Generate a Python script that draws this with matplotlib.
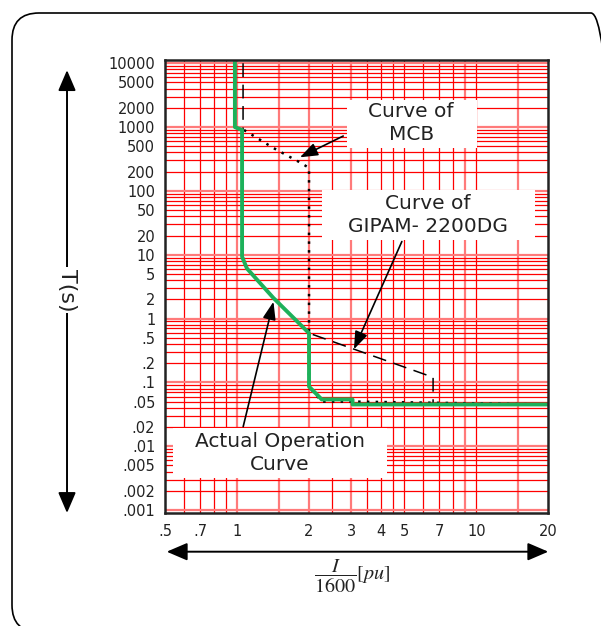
import numpy as np
import matplotlib.pyplot as plt
from matplotlib.patches import Rectangle, FancyBboxPatch, FancyArrowPatch
from matplotlib.ticker import NullLocator

plt.rcParams['font.family'] = ['DejaVu Sans']
plt.rcParams['mathtext.fontset'] = 'stix'

# curves (I/1600 in pu, T in s)
actual_x = [0.98, 0.98, 1.05, 1.05, 1.10, 1.42, 2.0, 2.0, 2.26, 3.04, 3.04, 20]
actual_y = [10000, 1000, 900, 9.3, 6.1, 2.1, 0.59, 0.086, 0.054, 0.054, 0.045, 0.045]
gipam_x = [1.06, 1.06, 1.10, 1.42, 2.0, 6.6, 6.6]
gipam_y = [10000, 9.3, 6.1, 2.1, 0.59, 0.12, 0.045]
mcb_x = [1.07, 1.42, 1.8, 2.0, 2.0, 2.26, 3.04, 20]
mcb_y = [900, 470, 290, 230, 0.086, 0.05, 0.05, 0.045]

xticks = [0.5, 0.7, 1, 2, 3, 4, 5, 7, 10, 20]
xlabels = ['.5', '.7', '1', '2', '3', '4', '5', '7', '10', '20']
yticks = [10000, 5000, 2000, 1000, 500, 200, 100, 50, 20, 10, 5, 2, 1,
          0.5, 0.2, 0.1, 0.05, 0.02, 0.01, 0.005, 0.002, 0.001]
ylabels = ['10000', '5000', '2000', '1000', '500', '200', '100', '50', '20', '10', '5', '2', '1',
           '.5', '.2', '.1', '.05', '.02', '.01', '.005', '.002', '.001']
vgrid = [0.6, 0.7, 0.8, 0.9, 1, 1.5, 2, 2.5, 3, 3.5, 4, 4.5, 5, 6, 7, 8, 9, 10, 15]
vgrid_light = [1, 1.5, 2, 3, 9, 15]

fig = plt.figure(figsize=(6.01, 6.26), dpi=100)
ax = fig.add_axes([0.2745, 0.181, 0.6378, 0.7232])
ax.set_xscale('log')
ax.set_yscale('log')
ax.set_xlim(0.5, 20)
ax.set_ylim(0.000907, 11270)

# red grid
for v in vgrid:
    if v in vgrid_light:
        ax.axvline(v, color='#ff7a7a', lw=1.6, zorder=1)
    else:
        ax.axvline(v, color='#ff0000', lw=0.9, zorder=1)
for n in range(-3, 5):
    for k in range(1, 10):
        val = k * 10.0 ** n
        if val > 11270:
            continue
        if k == 1:
            ax.axhline(val, color='#ff7a7a', lw=1.6, zorder=1)
        else:
            ax.axhline(val, color='#ff0000', lw=0.9, zorder=1)

ax.plot(mcb_x, mcb_y, color='black', lw=1.8, linestyle=(0, (1, 2.5)), zorder=2)
ax.plot(gipam_x, gipam_y, color='black', lw=1.1, linestyle=(0, (9, 5)), zorder=2)
ax.plot(actual_x, actual_y, color='#1db15a', lw=2.8, zorder=3)

ax.set_xticks(xticks)
ax.set_xticklabels(xlabels)
ax.set_yticks(yticks)
ax.set_yticklabels(ylabels)
ax.xaxis.set_minor_locator(NullLocator())
ax.yaxis.set_minor_locator(NullLocator())
ax.tick_params(axis='both', length=0, labelsize=10.5, colors='#222222')
ax.tick_params(axis='y', pad=7)
ax.tick_params(axis='x', pad=8)
for s in ax.spines.values():
    s.set_linewidth(1.8)
    s.set_color('#222222')
    s.set_zorder(7)

# white label boxes
boxes = [(0.474, 0.806, 0.339, 0.105), (0.409, 0.602, 0.557, 0.111), (0.021, 0.076, 0.557, 0.111)]
for bx, by, bw, bh in boxes:
    ax.add_patch(Rectangle((bx, by), bw, bh, transform=ax.transAxes,
                           facecolor='white', edgecolor='none', zorder=4))

tk = dict(transform=ax.transAxes, ha='center', va='center', fontsize=14.5,
          color='#222222', linespacing=1.3, zorder=5)
ax.text(0.642, 0.861, 'Curve of\nMCB', **tk)
ax.text(0.686, 0.658, 'Curve of\nGIPAM- 2200DG', **tk)
ax.text(0.30, 0.132, 'Actual Operation\nCurve', **tk)

ap = dict(arrowstyle='-|>,head_length=0.6,head_width=0.22', color='black', lw=1.2,
          mutation_scale=18, shrinkA=0, shrinkB=0)
for start, tip in [((0.465, 0.832), (0.352, 0.785)),
                   ((0.618, 0.599), (0.493, 0.361)),
                   ((0.204, 0.190), (0.283, 0.466))]:
    ax.annotate('', xy=tip, xytext=start, xycoords='axes fraction',
                arrowprops=ap, zorder=6)

# outer arrows and labels
big = dict(arrowstyle='<|-|>,head_length=0.7,head_width=0.3', color='black', lw=1.4,
           mutation_scale=18, shrinkA=0, shrinkB=0)
fig.add_artist(FancyArrowPatch((0.1115, 0.1805), (0.1115, 0.888),
                               transform=fig.transFigure, **big))
fig.text(0.1115, 0.5367, 'T(s)', rotation=270, ha='center', va='center', fontsize=16,
         color='#222222', bbox=dict(facecolor='white', edgecolor='none', pad=1.5))
fig.add_artist(FancyArrowPatch((0.2774, 0.1187), (0.9123, 0.1187),
                               transform=fig.transFigure, **big))
fig.text(0.586, 0.080, r'$\dfrac{I}{1600}[pu]$', ha='center', va='center', fontsize=14.5,
         color='#222222')

# rounded frame
frame = FancyBboxPatch((0.12, -0.06), 6.06, 6.19, boxstyle='round,pad=0,rounding_size=0.27',
                       transform=fig.dpi_scale_trans, facecolor='none', edgecolor='black', lw=1.2)
fig.add_artist(frame)

fig.savefig('out.png', dpi=100)
